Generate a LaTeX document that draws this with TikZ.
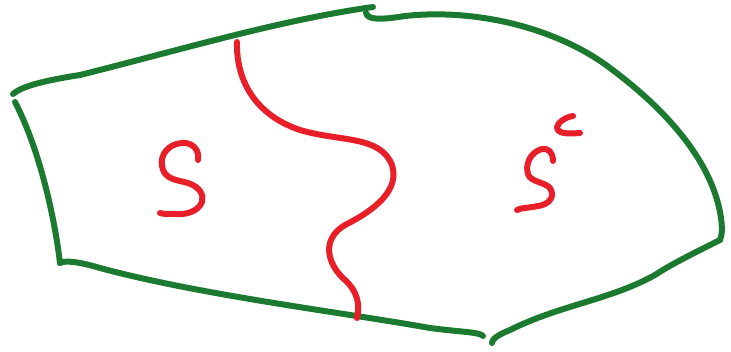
\documentclass[tikz,border=0pt]{standalone}
\definecolor{pen}{RGB}{28,122,48}
\definecolor{ink}{RGB}{232,30,40}
\begin{document}
\begin{tikzpicture}[x=1pt,y=-1pt,line cap=round,line join=round,
  gstroke/.style={draw=pen,line width=6pt},
  rstroke/.style={draw=ink,line width=6pt}]
\useasboundingbox (0,0) rectangle (731,352);
% named anchor coordinates
\coordinate (tl) at (13,94);
\coordinate (tm) at (373,7);
\coordinate (tm2) at (366,13);
\coordinate (tr) at (720,240);
\coordinate (br) at (492,343);
\coordinate (bm) at (483,336);
\coordinate (bl) at (60,263);
\coordinate (tl2) at (15,102);
% green outline
\path[gstroke] (tl) .. controls (20,88) and (35,82) .. (80,75)
  .. controls (180,50) and (280,20) .. (tm);
\path[gstroke] (tm2) .. controls (368,20) and (380,20) .. (405,16)
  .. controls (480,8) and (560,30) .. (610,68)
  .. controls (680,120) and (712,170) .. (720,212)
  .. controls (723,228) and (722,235) .. (tr);
\path[gstroke] (tr) .. controls (690,255) and (670,265) .. (655,275)
  .. controls (610,300) and (560,305) .. (510,330)
  .. controls (495,336) and (492,340) .. (br);
\path[gstroke] (bm) .. controls (480,332) and (460,332) .. (430,328)
  .. controls (340,312) and (200,295) .. (100,268)
  .. controls (80,262) and (65,260) .. (bl);
\path[gstroke] (bl) .. controls (55,220) and (40,150) .. (tl2);
% red boundary
\coordinate (r0) at (237,42);
\coordinate (r1) at (357,318);
\path[rstroke] (r0) .. controls (236,80) and (255,115) .. (300,130)
  .. controls (340,142) and (380,135) .. (392,165)
  .. controls (400,190) and (375,210) .. (345,225)
  .. controls (320,240) and (328,265) .. (345,280)
  .. controls (358,292) and (360,305) .. (r1);
% S left
\coordinate (s0) at (198,160);
\path[rstroke] (s0) .. controls (200,148) and (190,142) .. (182,143)
  .. controls (168,144) and (160,155) .. (162,166)
  .. controls (164,180) and (178,180) .. (188,183)
  .. controls (200,187) and (204,195) .. (202,202)
  .. controls (198,212) and (185,215) .. (175,214)
  .. controls (168,214) and (162,214) .. (160,213);
% S right
\coordinate (s1) at (553,161);
\path[rstroke] (s1) .. controls (553,152) and (548,148) .. (542,149)
  .. controls (530,152) and (525,165) .. (528,174)
  .. controls (530,182) and (545,182) .. (550,188)
  .. controls (556,197) and (548,205) .. (538,206)
  .. controls (528,208) and (520,208) .. (517,210);
% superscript c
\coordinate (c0) at (573,116);
\path[rstroke] (c0) .. controls (566,117) and (558,122) .. (557,127)
  .. controls (557,134) and (568,134) .. (580,133);
\end{tikzpicture}
\end{document}
